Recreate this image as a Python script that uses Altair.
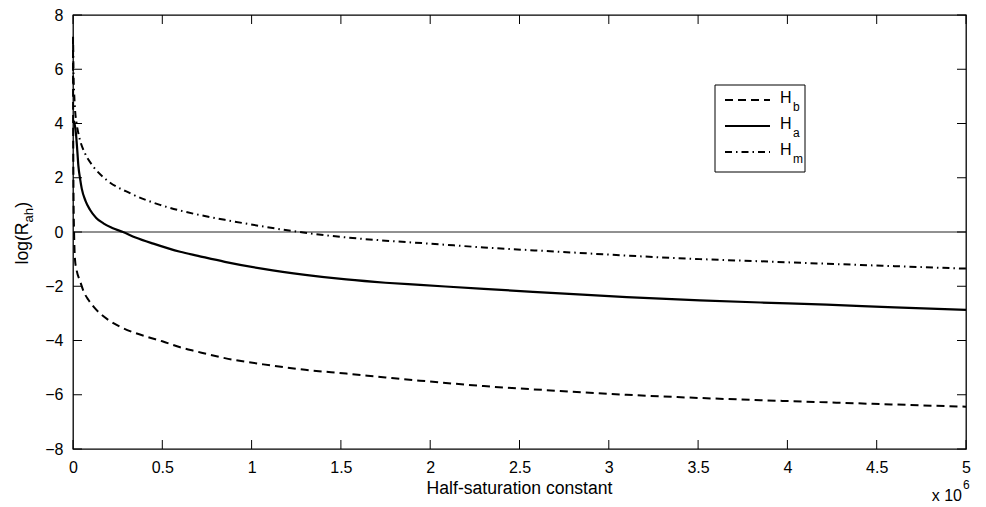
import altair as alt
import pandas as pd

# ---------------- data (x in units of 10^6) ----------------
hb_x = [0.0002, 0.0006, 0.0015, 0.003, 0.006, 0.011, 0.02, 0.039, 0.06, 0.086,
        0.115, 0.151, 0.2, 0.263, 0.33, 0.413, 0.5, 0.6, 0.69, 0.85,
        1.066, 1.3, 1.53, 1.75, 1.943, 2.3, 2.727, 3.1, 3.51, 3.85,
        4.22, 4.6, 5.0]
hb_y = [7.2, 5.0, 3.0, 1.3, 0.0, -1.0, -1.4, -1.8, -2.2, -2.5,
        -2.75, -3.0, -3.25, -3.49, -3.68, -3.86, -4.03, -4.25, -4.4, -4.65,
        -4.88, -5.08, -5.22, -5.36, -5.48, -5.68, -5.86, -6.0, -6.12, -6.2,
        -6.28, -6.36, -6.44]

ha_x = [0.005, 0.01, 0.017, 0.024, 0.03, 0.04, 0.049, 0.07, 0.095, 0.13,
        0.17, 0.22, 0.28, 0.35, 0.45, 0.6, 0.7, 0.85, 1.066, 1.3,
        1.53, 1.75, 1.943, 2.3, 2.727, 3.1, 3.51, 3.85, 4.22, 4.6, 5.0]
ha_y = [4.1, 3.95, 3.6, 3.0, 2.45, 1.95, 1.6, 1.15, 0.82, 0.52,
        0.32, 0.15, 0.0, -0.2, -0.43, -0.73, -0.88, -1.1, -1.36, -1.58,
        -1.75, -1.87, -1.95, -2.1, -2.26, -2.4, -2.52, -2.6, -2.68, -2.78, -2.87]

hm_x = [0.001, 0.003, 0.006, 0.01, 0.02, 0.03, 0.039, 0.067, 0.114, 0.188,
        0.319, 0.487, 0.6, 0.7, 0.85, 1.066, 1.29, 1.53, 1.75, 2.0,
        2.3, 2.727, 3.1, 3.51, 3.85, 4.22, 4.6, 5.0]
hm_y = [6.9, 5.8, 5.2, 4.65, 4.0, 3.64, 3.39, 2.9, 2.41, 1.92,
        1.43, 1.0, 0.79, 0.64, 0.45, 0.2, -0.02, -0.2, -0.32, -0.43,
        -0.57, -0.73, -0.87, -1.0, -1.08, -1.17, -1.26, -1.35]

x_ticks = [0, 0.5, 1, 1.5, 2, 2.5, 3, 3.5, 4, 4.5, 5]
y_ticks = [-8, -6, -4, -2, 0, 2, 4, 6, 8]

legend_labels = ["H", "H", "H"]
legend_subs = ["b", "a", "m"]
x_title = "Half-saturation constant"
y_title_parts = ["log(R", "ah", ")"]
exp_parts = ["x 10", "6"]

# ---------------- layout ----------------
W, H = 893, 434
FONT = "Liberation Sans"
FS = 16
FS_SUB = 12
FT = 17.6
FT_SUB = 13.2

xs = alt.Scale(domain=[0, 5], nice=False, zero=False)
ys = alt.Scale(domain=[-8, 8], nice=False, zero=False)
xaxis = alt.Axis(values=x_ticks, format="~g", title=None, grid=False, domain=False,
                 ticks=False, labelFlush=False, labelOverlap=False, labelPadding=10,
                 labelFontSize=FS, labelFont=FONT, labelColor="black")
yaxis = alt.Axis(values=y_ticks, format="~g", title=None, grid=False, domain=False,
                 ticks=False, labelFlush=False, labelOverlap=False, labelPadding=10,
                 labelFontSize=FS, labelFont=FONT, labelColor="black")
X = alt.X("x:Q", scale=xs, axis=xaxis)
Y = alt.Y("y:Q", scale=ys, axis=yaxis)

DASH_B = [8, 5]
DASH_M = [7, 4, 1.5, 4]


def series(xv, yv, width, dash=None):
    df = pd.DataFrame({"x": xv, "y": yv})
    kw = dict(color="black", strokeWidth=width, interpolate="monotone")
    if dash is not None:
        kw["strokeDash"] = dash
    return alt.Chart(df).mark_line(**kw).encode(x=X, y=Y)


xt = pd.DataFrame({"x": x_ticks})
yt = pd.DataFrame({"y": y_ticks})

zero_line = alt.Chart(pd.DataFrame({"y": [0]})).mark_rule(color="#222", strokeWidth=1).encode(
    y=Y, x=alt.value(0), x2=alt.value(W))

tick_bottom = alt.Chart(xt).mark_rule(color="black", strokeWidth=1).encode(
    x=X, y=alt.value(H), y2=alt.value(H - 9))
tick_top = alt.Chart(xt).mark_rule(color="black", strokeWidth=1).encode(
    x=X, y=alt.value(0), y2=alt.value(9))
tick_left = alt.Chart(yt).mark_rule(color="black", strokeWidth=1).encode(
    y=Y, x=alt.value(0), x2=alt.value(9))
tick_right = alt.Chart(yt).mark_rule(color="black", strokeWidth=1).encode(
    y=Y, x=alt.value(W), x2=alt.value(W - 9))


def text(t, x, y, size=FS, align="left", baseline="alphabetic", angle=0):
    kw = dict(font=FONT, fontSize=size, color="black", align=align, baseline=baseline)
    if angle:
        kw["angle"] = angle
    return alt.Chart(pd.DataFrame({"t": [t]})).mark_text(**kw).encode(
        text="t:N", x=alt.value(x), y=alt.value(y))


# legend box and entries
LX0, LX1, LY0, LY1 = 642, 732, 70, 157
legend_box = alt.Chart(pd.DataFrame({"a": [0]})).mark_rect(
    fill="white", stroke="black", strokeWidth=1).encode(
    x=alt.value(LX0), x2=alt.value(LX1), y=alt.value(LY0), y2=alt.value(LY1))

row_base = [88, 114, 140]
dashes = [DASH_B, None, DASH_M]
widths = [2.0, 2.2, 2.0]
legend_layers = []
for i in range(3):
    kw = dict(color="black", strokeWidth=widths[i])
    if dashes[i] is not None:
        kw["strokeDash"] = dashes[i]
    legend_layers.append(
        alt.Chart(pd.DataFrame({"a": [0]})).mark_rule(**kw).encode(
            x=alt.value(652), x2=alt.value(697),
            y=alt.value(row_base[i] - 3)))
    legend_layers.append(text(legend_labels[i], 707, row_base[i]))
    legend_layers.append(text(legend_subs[i], 720, row_base[i] + 8, size=FS_SUB))

# axis titles
x_title_l = text(x_title, W / 2, 479, size=FT, align="center")
exp1 = text(exp_parts[0], 889, 486, align="right")
exp2 = text(exp_parts[1], 890, 474, size=FS_SUB)
yt1 = text(y_title_parts[0], -45, 249.5, size=FT, angle=270, align="left")
yt2 = text(y_title_parts[1], -40, 207.5, size=FT_SUB, angle=270, align="left")
yt3 = text(y_title_parts[2], -45, 192.8, size=FT, angle=270, align="left")

chart = alt.layer(
    zero_line,
    series(hb_x, hb_y, 2.0, DASH_B),
    series(ha_x, ha_y, 2.2),
    series(hm_x, hm_y, 2.0, DASH_M),
    tick_bottom, tick_top, tick_left, tick_right,
    legend_box, *legend_layers,
    x_title_l, exp1, exp2, yt1, yt2, yt3,
).properties(
    width=W, height=H,
    autosize=alt.AutoSizeParams(type="none"),
    padding={"left": 73, "top": 15, "right": 20, "bottom": 58},
    background="white",
).configure_view(stroke="black", strokeWidth=1.3)

chart.save("out.html", embed_options={"renderer": "svg", "actions": False})
